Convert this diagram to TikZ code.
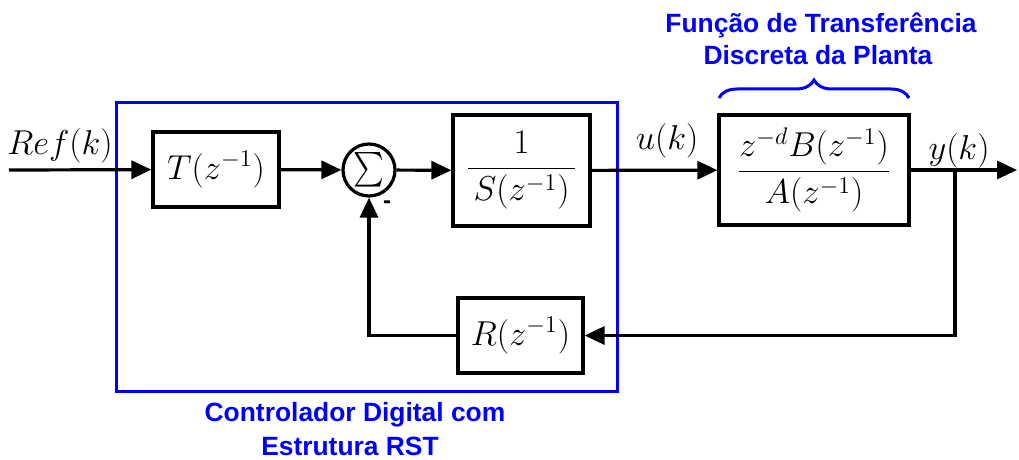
\documentclass[tikz,border=0pt]{standalone}
\usepackage{amsmath}
\usepackage{graphicx}
\usepackage{fontspec}
\newfontfamily\labelfont{Liberation Sans}
\usetikzlibrary{arrows.meta,decorations.pathreplacing}
\begin{document}
\begin{tikzpicture}[x=0.5pt,y=-0.5pt,
  blk/.style={draw,line width=1.6pt,inner sep=0pt,font=\fontsize{17}{20}\selectfont},
  sumnode/.style={draw,circle,line width=1.6pt,inner sep=0pt,minimum size=26pt,font=\fontsize{16}{18}\selectfont},
  sig/.style={line width=1.6pt},
  arr/.style={sig,-{Triangle[length=10pt,width=9pt]}},
  lbl/.style={inner sep=0pt,font=\fontsize{17}{20}\selectfont},
  bluelbl/.style={text=blue,font=\labelfont\bfseries\fontsize{13.2}{15}\selectfont,anchor=base,inner sep=0pt},
  bluebox/.style={draw=blue,line width=1.5pt},
]
\useasboundingbox (0,0) rectangle (1019,460);

% controller frame
\draw[bluebox] (116,103) rectangle (617,391);

% blocks
\node[blk,minimum width=63pt,minimum height=37.5pt] (T) at (216,169.5) {$T(z^{-1})$};
\node[sumnode] (sum) at (369,170) {\scalebox{0.85}[1]{$\sum$}};
\node[blk,minimum width=68.5pt,minimum height=55.5pt] (S) at (521.5,170.5) {$\dfrac{1}{\,S(z^{-1})\,}$};
\node[blk,minimum width=95pt,minimum height=55pt] (P) at (814,170) {$\dfrac{z^{-d}B(z^{-1})}{A(z^{-1})}$};
\node[blk,minimum width=62.5pt,minimum height=37.5pt] (R) at (520.5,335.5) {$R(z^{-1})$};

% signal labels
\node[lbl] (ref) at (60,146) {$Ref(k)$};
\node[lbl] (u) at (667,141) {$u(k)$};
\node[lbl] (y) at (959,151) {$y(k)$};
\node[font=\labelfont\bfseries\fontsize{12}{14}\selectfont,inner sep=0pt] (minus) at (387,205) {-};

% connectors
\coordinate (in) at (9,170);
\coordinate (out) at (1017,170);
\coordinate (br) at (955,170);
\draw[arr] (in) -- (T);
\draw[arr] (T) -- (sum);
\draw[arr] (sum) -- (S);
\draw[arr] (S) -- (P);
\draw[arr] (P) -- (out);
\draw[arr] (br) |- (R.east);
\draw[arr] (R.west) -| (sum.south);

% plant brace and titles
\coordinate (bl) at (719,98);
\coordinate (brr) at (909,98);
\draw[blue,line width=1.5pt,decorate,decoration={brace,amplitude=9pt}] (bl) -- (brr);
\node[bluelbl] (t1) at (821,33) {Função de Transferência};
\node[bluelbl] (t2) at (818,65) {Discreta da Planta};
\node[bluelbl] (c1) at (355,422) {Controlador Digital com};
\node[bluelbl] (c2) at (350,455) {Estrutura RST};
\end{tikzpicture}
\end{document}
